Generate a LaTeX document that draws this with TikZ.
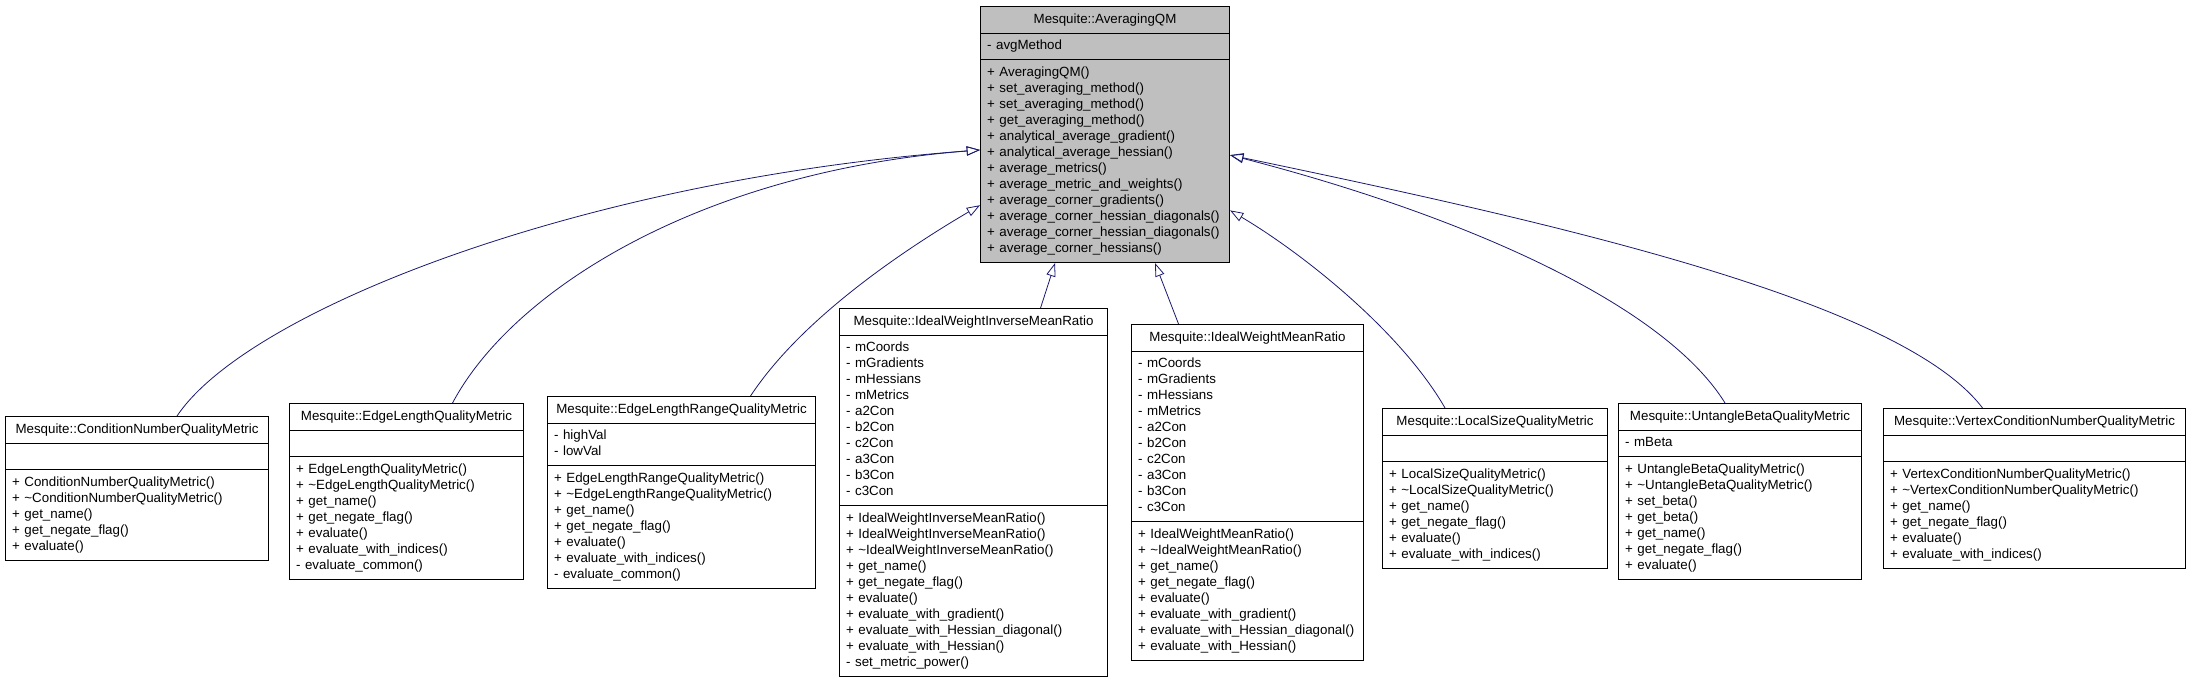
\documentclass[tikz,border=0pt]{standalone}
\usepackage{fontspec}
\setmainfont{Liberation Sans}
\usepackage{tikz}
\usetikzlibrary{
  arrows.meta,
  shapes.multipart,
  calc
}
\definecolor{edgeblue}{HTML}{191970}
\definecolor{basegray}{HTML}{BFBFBF}
\newcommand{\members}[1]{\strut#1\strut}
\newcommand{\classname}[1]{\strut\makebox[\linewidth]{#1}\strut}

\begin{document}
\begin{tikzpicture}[
  x=0.75pt, y=-0.75pt,
  umlclass/.style={
    draw, line width=0.8pt, rectangle split, rectangle split parts=3,
    inner xsep=5pt, inner ysep=3.6pt, align=left, anchor=north west,
    font=\fontsize{10}{12}\selectfont, fill=white,
  },
  baseclass/.style={umlclass, fill=basegray},
  inherit/.style={
    draw=edgeblue, line width=0.6pt,
    -{Triangle[open, length=10pt, width=7pt]},
  },
]
\useasboundingbox (0,0) rectangle (2189,683);

% Base class
\node[baseclass, text width=176.75pt] (avg) at (980,6) {\classname{Mesquite::AveragingQM}
  \nodepart{two}\members{- avgMethod}
  \nodepart{three}\members{+ AveragingQM()\\ + set\_averaging\_method()\\ + set\_averaging\_method()\\
    + get\_averaging\_method()\\ + analytical\_average\_gradient()\\ + analytical\_average\_hessian()\\
    + average\_metrics()\\ + average\_metric\_and\_weights()\\ + average\_corner\_gradients()\\
    + average\_corner\_hessian\_diagonals()\\ + average\_corner\_hessian\_diagonals()\\
    + average\_corner\_hessians()}};

% Derived classes
\node[umlclass, text width=187.25pt] (cnqm) at (5,416) {\classname{Mesquite::ConditionNumberQualityMetric}
  \nodepart{two}\members{}
  \nodepart{three}\members{+ ConditionNumberQualityMetric()\\ + \textasciitilde ConditionNumberQualityMetric()\\
    + get\_name()\\ + get\_negate\_flag()\\ + evaluate()}};
\node[umlclass, text width=165.5pt] (elqm) at (289,403) {\classname{Mesquite::EdgeLengthQualityMetric}
  \nodepart{two}\members{}
  \nodepart{three}\members{+ EdgeLengthQualityMetric()\\ + \textasciitilde EdgeLengthQualityMetric()\\
    + get\_name()\\ + get\_negate\_flag()\\ + evaluate()\\ + evaluate\_with\_indices()\\ - evaluate\_common()}};
\node[umlclass, text width=191pt] (elrqm) at (547,396) {\classname{Mesquite::EdgeLengthRangeQualityMetric}
  \nodepart{two}\members{- highVal\\ - lowVal}
  \nodepart{three}\members{+ EdgeLengthRangeQualityMetric()\\ + \textasciitilde EdgeLengthRangeQualityMetric()\\
    + get\_name()\\ + get\_negate\_flag()\\ + evaluate()\\ + evaluate\_with\_indices()\\ - evaluate\_common()}};
\node[umlclass, text width=191pt] (iwimr) at (839,308) {\classname{Mesquite::IdealWeightInverseMeanRatio}
  \nodepart{two}\members{- mCoords\\ - mGradients\\ - mHessians\\ - mMetrics\\ - a2Con\\ - b2Con\\ - c2Con\\
    - a3Con\\ - b3Con\\ - c3Con}
  \nodepart{three}\members{+ IdealWeightInverseMeanRatio()\\ + IdealWeightInverseMeanRatio()\\
    + \textasciitilde IdealWeightInverseMeanRatio()\\ + get\_name()\\ + get\_negate\_flag()\\ + evaluate()\\
    + evaluate\_with\_gradient()\\ + evaluate\_with\_Hessian\_diagonal()\\ + evaluate\_with\_Hessian()\\
    - set\_metric\_power()}};
\node[umlclass, text width=164pt] (iwmr) at (1131,324) {\classname{Mesquite::IdealWeightMeanRatio}
  \nodepart{two}\members{- mCoords\\ - mGradients\\ - mHessians\\ - mMetrics\\ - a2Con\\ - b2Con\\ - c2Con\\
    - a3Con\\ - b3Con\\ - c3Con}
  \nodepart{three}\members{+ IdealWeightMeanRatio()\\ + \textasciitilde IdealWeightMeanRatio()\\
    + get\_name()\\ + get\_negate\_flag()\\ + evaluate()\\ + evaluate\_with\_gradient()\\
    + evaluate\_with\_Hessian\_diagonal()\\ + evaluate\_with\_Hessian()}};
\node[umlclass, text width=158.75pt] (lsqm) at (1382,408) {\classname{Mesquite::LocalSizeQualityMetric}
  \nodepart{two}\members{}
  \nodepart{three}\members{+ LocalSizeQualityMetric()\\ + \textasciitilde LocalSizeQualityMetric()\\
    + get\_name()\\ + get\_negate\_flag()\\ + evaluate()\\ + evaluate\_with\_indices()}};
\node[umlclass, text width=172.25pt] (ubqm) at (1618,403) {\classname{Mesquite::UntangleBetaQualityMetric}
  \nodepart{two}\members{- mBeta}
  \nodepart{three}\members{+ UntangleBetaQualityMetric()\\ + \textasciitilde UntangleBetaQualityMetric()\\
    + set\_beta()\\ + get\_beta()\\ + get\_name()\\ + get\_negate\_flag()\\ + evaluate()}};
\node[umlclass, text width=216.5pt] (vcnqm) at (1883,408) {\classname{Mesquite::VertexConditionNumberQualityMetric}
  \nodepart{two}\members{}
  \nodepart{three}\members{+ VertexConditionNumberQualityMetric()\\ + \textasciitilde VertexConditionNumberQualityMetric()\\
    + get\_name()\\ + get\_negate\_flag()\\ + evaluate()\\ + evaluate\_with\_indices()}};

% Arrow ends on the base class
\coordinate (inL1) at ($(avg.north west)!0.56!(avg.south west)$);
\coordinate (inL2) at ($(avg.north west)!0.775!(avg.south west)$);
\coordinate (inR1) at ($(avg.north east)!0.58!(avg.south east)$);
\coordinate (inR2) at ($(avg.north east)!0.795!(avg.south east)$);
\coordinate (inB1) at ($(avg.south west)!0.30!(avg.south east)$);
\coordinate (inB2) at ($(avg.south west)!0.70!(avg.south east)$);

% Generalisation
\draw[inherit] ($(cnqm.north)+(40,0)$) .. controls +(70,-105) and +(-400,30) .. (inL1);
\draw[inherit] ($(elqm.north)+(46,0)$) .. controls +(60,-113) and +(-280,22) .. (inL1);
\draw[inherit] ($(elrqm.north)+(69,0)$) .. controls +(50,-76) and +(-80,47) .. (inL2);
\draw[inherit] ($(iwimr.north)+(67,0)$) -- (inB1);
\draw[inherit] ($(iwmr.north)+(-69,0)$) -- (inB2);
\draw[inherit] ($(lsqm.north)+(-50,0)$) .. controls +(-45,-78) and +(71,42) .. (inR2);
\draw[inherit] ($(ubqm.north)+(-15,0)$) .. controls +(-64,-103) and +(221,57) .. (inR1);
\draw[inherit] ($(vcnqm.north)+(-52,0)$) .. controls +(-82,-108) and +(321,67) .. (inR1);

\end{tikzpicture}
\end{document}
